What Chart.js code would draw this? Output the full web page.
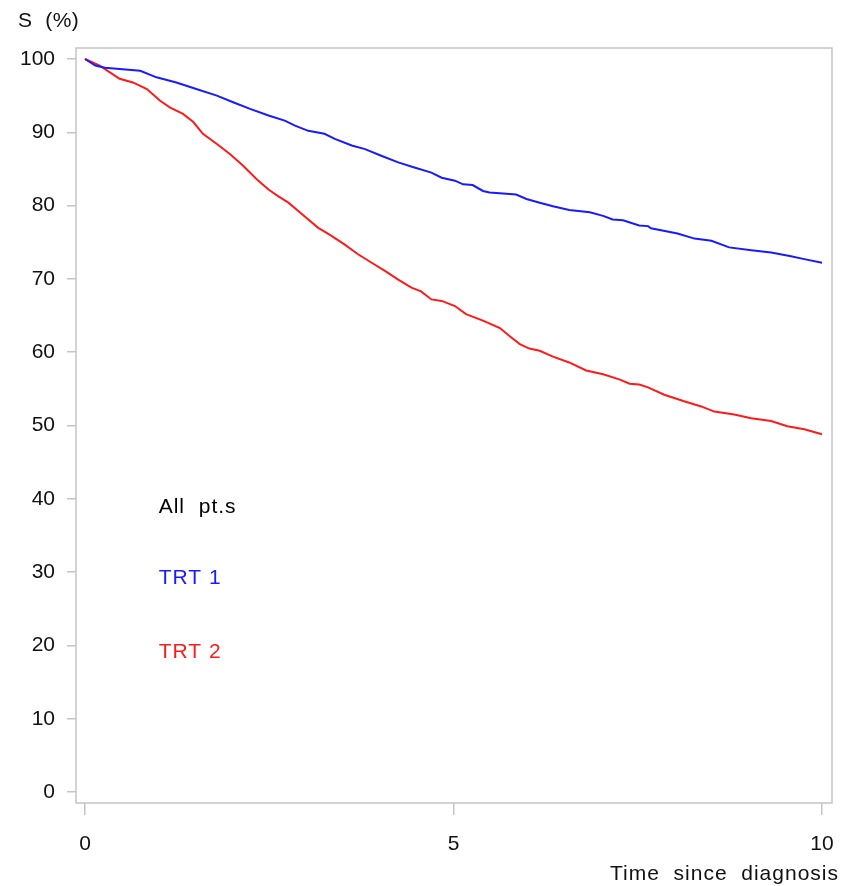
<!DOCTYPE html>
<html>
<head>
<meta charset="utf-8">
<script src="https://cdn.jsdelivr.net/npm/chart.js@4"></script>
<style>
html, body { margin:0; padding:0; background:#fff; }
#wrap { width:852px; height:886px; }
</style>
</head>
<body>
<div id="wrap"><canvas id="graphSurvie" width="852" height="886"></canvas></div>
<script>
// time since diagnosis (years) / survival (%)
let trt1Time = [0, 0.14, 0.27, 0.75, 0.97, 1.24, 1.51, 1.79, 2.01, 2.24, 2.49, 2.71, 2.85, 3.03, 3.25, 3.39, 3.62, 3.8, 4.02, 4.25, 4.47, 4.7, 4.84, 5.02, 5.13, 5.26, 5.4, 5.49, 5.85, 5.99, 6.17, 6.35, 6.57, 6.85, 7.03, 7.16, 7.3, 7.52, 7.64, 7.68, 8.04, 8.27, 8.5, 8.74, 9.04, 9.31, 9.58, 9.76, 10];
let trt1Surv = [100, 99.1, 98.8, 98.4, 97.5, 96.8, 95.9, 95.0, 94.1, 93.2, 92.3, 91.6, 90.9, 90.2, 89.8, 89.1, 88.2, 87.7, 86.8, 85.9, 85.2, 84.5, 83.8, 83.4, 82.9, 82.8, 82.0, 81.8, 81.5, 80.9, 80.4, 79.9, 79.4, 79.1, 78.6, 78.1, 78.0, 77.3, 77.2, 76.9, 76.2, 75.5, 75.2, 74.3, 73.9, 73.6, 73.1, 72.7, 72.2];
let trt2Time = [0, 0.2, 0.47, 0.65, 0.84, 1.02, 1.15, 1.33, 1.47, 1.6, 1.79, 1.97, 2.15, 2.33, 2.49, 2.62, 2.76, 2.89, 3.03, 3.16, 3.34, 3.52, 3.7, 3.89, 4.07, 4.25, 4.43, 4.56, 4.7, 4.84, 5.02, 5.17, 5.4, 5.63, 5.76, 5.9, 6.03, 6.17, 6.35, 6.57, 6.8, 7.03, 7.25, 7.39, 7.52, 7.64, 7.86, 8.13, 8.36, 8.54, 8.81, 9.04, 9.31, 9.53, 9.76, 10];
let trt2Surv = [100, 99.1, 97.3, 96.8, 95.9, 94.3, 93.4, 92.5, 91.4, 89.8, 88.4, 87.0, 85.4, 83.6, 82.2, 81.3, 80.4, 79.3, 78.1, 77.0, 75.9, 74.7, 73.4, 72.2, 71.1, 69.9, 68.8, 68.3, 67.2, 67.0, 66.3, 65.2, 64.3, 63.3, 62.2, 61.1, 60.5, 60.2, 59.4, 58.6, 57.5, 57.0, 56.3, 55.7, 55.6, 55.2, 54.2, 53.3, 52.6, 51.9, 51.5, 51.0, 50.6, 49.9, 49.5, 48.8];

let xTicks = [0, 5, 10];
let yTicks = [0, 10, 20, 30, 40, 50, 60, 70, 80, 90, 100];

let legendLabels = ["All  pt.s", "TRT 1", "TRT 2"];
let legendColors = ["#000000", "#1a1aff", "#ff1a1a"];
let legendY = [38.9, 29.1, 19.1];
let legendX = 1;

let yTitle = "S  (%)";
let xTitle = "Time  since  diagnosis";

let fontFamily = "'Liberation Sans', Arial, Helvetica, sans-serif";

function toPoints(xs, ys){
    let pts = new Array();
    for(let i = 0; i < xs.length; i++){
        pts.push({x:xs[i], y:ys[i]});
    }
    return pts;
}

// frame, axis titles and in-plot labels
let extraText = {
    id:"extraText",
    afterDraw(chart){
        let ctx = chart.ctx;
        let a = chart.chartArea;
        ctx.save();
        ctx.strokeStyle = "#c4c4c4";
        ctx.lineWidth = 1.5;
        ctx.strokeRect(a.left, a.top, a.right - a.left, a.bottom - a.top);
        ctx.font = "21px " + fontFamily;
        ctx.textBaseline = "middle";
        ctx.fillStyle = "#111";
        ctx.letterSpacing = "0.5px";
        ctx.textAlign = "left";
        ctx.fillText(yTitle, 18, 21);
        ctx.letterSpacing = "1px";
        ctx.textAlign = "right";
        ctx.fillText(xTitle, 839, 874);
        ctx.textAlign = "left";
        for(let i = 0; i < legendLabels.length; i++){
            ctx.fillStyle = legendColors[i];
            ctx.fillText(legendLabels[i], chart.scales.x.getPixelForValue(legendX), chart.scales.y.getPixelForValue(legendY[i]));
        }
        ctx.restore();
    }
};

let myCanvas = document.getElementById("graphSurvie").getContext('2d');
let graph = new Chart(myCanvas, {
    type:"line",
    data:{
        datasets:[{
            label:"TRT 1",
            data:toPoints(trt1Time, trt1Surv),
            borderColor:"#1a1aff",
            borderWidth:2,
            pointRadius:0,
            tension:0,
            fill:false
        },{
            label:"TRT 2",
            data:toPoints(trt2Time, trt2Surv),
            borderColor:"#ff1a1a",
            borderWidth:2,
            pointRadius:0,
            tension:0,
            fill:false
        }]
    },
    options:{
        responsive:false,
        animation:false,
        layout:{padding:{top:48, right:20, left:0, bottom:0}},
        plugins:{
            legend:{display:false},
            tooltip:{enabled:false}
        },
        scales:{
            x:{
                type:"linear",
                min:-0.122,
                max:10.136,
                afterBuildTicks:function(s){ s.ticks = xTicks.map(v => ({value:v})); },
                afterFit:function(s){ s.height = 83; },
                border:{display:false},
                grid:{drawOnChartArea:false, drawTicks:true, tickLength:12, color:"#c4c4c4", lineWidth:1.5},
                ticks:{color:"#111", padding:17, maxRotation:0, font:{size:21, family:fontFamily}}
            },
            y:{
                min:-1.5,
                max:101.5,
                afterBuildTicks:function(s){ s.ticks = yTicks.map(v => ({value:v})); },
                afterFit:function(s){ s.width = 76; },
                border:{display:false},
                grid:{drawOnChartArea:false, drawTicks:true, tickLength:9, color:"#c4c4c4", lineWidth:1.5},
                ticks:{color:"#111", padding:12, font:{size:21, family:fontFamily}}
            }
        }
    },
    plugins:[extraText]
});
</script>
</body>
</html>
